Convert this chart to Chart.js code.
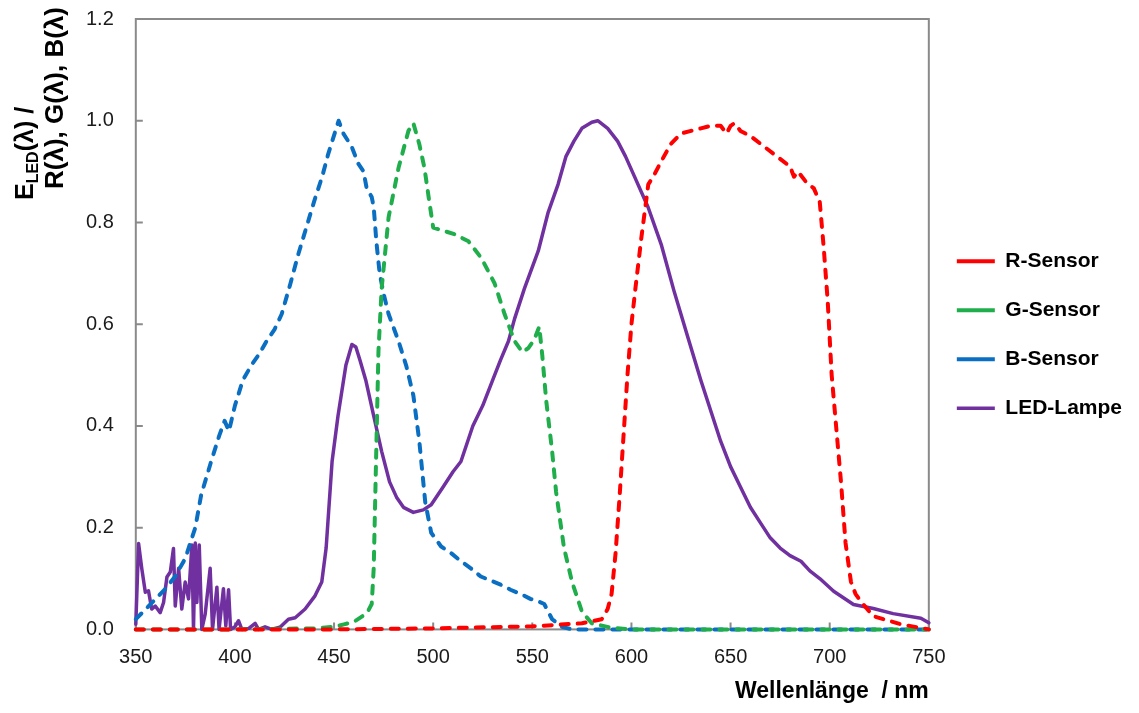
<!DOCTYPE html>
<html><head><meta charset="utf-8">
<script src="https://cdn.jsdelivr.net/npm/chart.js@4.4.0/dist/chart.umd.min.js"></script>
<style>html,body{margin:0;padding:0;background:#fff}#wrap{width:1139px;height:713px;position:relative}</style>
</head><body><div id="wrap"><canvas id="c"></canvas></div>
<script>
// ---------- data ----------
const seriesNames = ['R-Sensor', 'G-Sensor', 'B-Sensor', 'LED-Lampe'];
const xTitle = 'Wellenlänge  / nm';
const yTitleLine1 = ['E', 'LED', '(λ) /'];
const yTitleLine2 = 'R(λ), G(λ), B(λ)';

const rWl  = [350,450,500,550,575,585,588,590,592,594,596,598,600,602,605,608.5,611,615,620,625,630,635,640,645,648,650,652,655,660,665,670,675,680,682,684,688,692,695,697,699,701,703,705.7,708,710.7,713,715.7,722,736,750];
const rVal = [0,0,0.002,0.006,0.012,0.02,0.04,0.07,0.15,0.26,0.38,0.5,0.6,0.67,0.77,0.875,0.89,0.92,0.955,0.975,0.98,0.985,0.99,0.99,0.975,0.99,0.995,0.98,0.97,0.955,0.94,0.925,0.91,0.89,0.9,0.88,0.867,0.84,0.75,0.645,0.5,0.41,0.29,0.17,0.094,0.07,0.055,0.026,0.01,0];

const gWl  = [350,400,440,450,455,460,464,467,469,470,471,472.4,474,477.5,482.5,487.5,490,493,495.6,498,500,505.7,510.7,517.8,524.3,531,536,541,545,548,551,553.5,555,557,560,562,566,570,575,580,590,600,650,700,750];
const gVal = [0,0,0.002,0.005,0.01,0.015,0.025,0.035,0.05,0.12,0.3,0.547,0.67,0.81,0.907,0.98,0.995,0.954,0.907,0.842,0.79,0.783,0.777,0.763,0.73,0.68,0.62,0.567,0.545,0.553,0.57,0.595,0.54,0.45,0.35,0.27,0.16,0.094,0.035,0.012,0.003,0,0,0,0];

const bWl  = [350,355,360,365,370,375,380,383,388,392,394.8,397,400,404,408.4,412,416,420,423.6,428,432,436,440,444,447,452.3,454.8,458.8,462.3,464.9,466.4,469,470,471.4,473,475,477.5,482.5,486.5,490,493,496,499,504,509,514,519,524,529,534,539,544.5,549,553,556,560,565,570,600,650,700,750];
const bVal = [0.02,0.04,0.06,0.08,0.105,0.14,0.2,0.265,0.33,0.38,0.41,0.39,0.44,0.49,0.52,0.54,0.567,0.59,0.62,0.68,0.738,0.79,0.842,0.89,0.934,1.0,0.974,0.95,0.915,0.9,0.868,0.85,0.83,0.76,0.7,0.66,0.62,0.567,0.517,0.46,0.37,0.25,0.19,0.163,0.15,0.134,0.12,0.104,0.096,0.088,0.078,0.069,0.06,0.055,0.05,0.02,0.005,0,0,0,0,0];

const ledWl  = [350,351.4,353,354.8,356.4,358,359.8,362.3,364,365.7,367.4,369,369.9,371.6,373.2,374.9,376.6,378.3,379.1,380,380.8,382,383.3,385,387.5,388.7,390.9,392,394.2,395.4,396.8,397.8,400,401.8,403.5,407,410.2,411.9,415.2,418.6,423,427,430.4,435.4,440.4,443.8,446,449,452,454,456,459,461,463,466,470,474,478,481.5,485,490,495,499,505,510,514,520,525,530,534,538,541,546,553,558,563,567,571,575,580,583,588,593,597,601,608.4,615,621.5,628,635,640,645,650,655,660,665,670,675,680,685.5,690,695,702,712,722,732,746,750];
const ledVal = [0.01,0.169,0.12,0.073,0.076,0.04,0.046,0.033,0.053,0.103,0.113,0.159,0.046,0.12,0.04,0.093,0.06,0.166,0,0.17,0.053,0.166,0,0.03,0.12,0,0.083,0,0.08,0.007,0.078,0,0.005,0.017,0,0.002,0.012,0,0.005,0,0.005,0.02,0.023,0.04,0.066,0.093,0.16,0.33,0.42,0.47,0.52,0.56,0.555,0.53,0.49,0.42,0.35,0.29,0.26,0.24,0.23,0.235,0.245,0.28,0.31,0.33,0.4,0.44,0.49,0.53,0.567,0.61,0.67,0.744,0.82,0.875,0.93,0.96,0.985,0.997,1.0,0.985,0.96,0.93,0.895,0.83,0.757,0.665,0.58,0.49,0.43,0.37,0.32,0.28,0.24,0.21,0.18,0.16,0.145,0.134,0.115,0.1,0.075,0.049,0.041,0.031,0.022,0.013];

const xTicks = {min: 350, max: 750, step: 50};
const yTicks = {min: 0, max: 1.2, step: 0.2};

// ---------- build ----------
const pts = (xs, ys) => xs.map((x, i) => ({x, y: ys[i]}));
const FONT = '"Liberation Sans", Arial, sans-serif';

const framePlugin = {
  id: 'frame',
  beforeDatasetsDraw(chart) {
    const {ctx, chartArea: a, scales: {x, y}} = chart;
    ctx.save();
    ctx.strokeStyle = '#8a8a8a';
    ctx.lineWidth = 2;
    ctx.strokeRect(a.left, a.top, a.right - a.left, a.bottom - a.top);
    ctx.beginPath();
    x.ticks.forEach(t => { const p = x.getPixelForValue(t.value); ctx.moveTo(p, a.bottom); ctx.lineTo(p, a.bottom - 7); });
    y.ticks.forEach(t => { const p = y.getPixelForValue(t.value); ctx.moveTo(a.left, p); ctx.lineTo(a.left + 7, p); });
    ctx.stroke();
    ctx.restore();
  }
};

const yTitlePlugin = {
  id: 'ytitle',
  afterDraw(chart) {
    const {ctx} = chart;
    ctx.save();
    ctx.fillStyle = '#000';
    ctx.textAlign = 'left';
    ctx.textBaseline = 'alphabetic';
    ctx.save();
    ctx.translate(33, 200);
    ctx.rotate(-Math.PI / 2);
    let cx = 0;
    ctx.font = 'bold 25px ' + FONT;
    ctx.fillText(yTitleLine1[0], cx, 0); cx += ctx.measureText(yTitleLine1[0]).width;
    ctx.font = 'bold 16px ' + FONT;
    ctx.fillText(yTitleLine1[1], cx, 5); cx += ctx.measureText(yTitleLine1[1]).width;
    ctx.font = 'bold 25px ' + FONT;
    ctx.fillText(yTitleLine1[2], cx, 0);
    ctx.restore();
    ctx.save();
    ctx.translate(63, 189);
    ctx.rotate(-Math.PI / 2);
    ctx.font = 'bold 26px ' + FONT;
    ctx.fillText(yTitleLine2, 0, 0);
    ctx.restore();
    ctx.restore();
  }
};

const dashed = (label, color, data) => ({
  label, data, borderColor: color, backgroundColor: color,
  borderWidth: 4, borderDash: [8, 9], borderCapStyle: 'round', borderJoinStyle: 'round',
  pointRadius: 0, tension: 0, clip: false
});

new Chart(document.getElementById('c'), {
  type: 'line',
  data: {
    datasets: [
      dashed(seriesNames[0], '#ff0000', pts(rWl, rVal)),
      dashed(seriesNames[1], '#1fae4b', pts(gWl, gVal)),
      dashed(seriesNames[2], '#0a6fc2', pts(bWl, bVal)),
      { label: seriesNames[3], data: pts(ledWl, ledVal), borderColor: '#7030a0', backgroundColor: '#7030a0',
        borderWidth: 3.5, borderCapStyle: 'round', borderJoinStyle: 'round', pointRadius: 0, tension: 0, clip: false }
    ]
  },
  options: {
    responsive: true, maintainAspectRatio: false, animation: false,
    layout: { padding: { left: 72, right: 7, top: 19, bottom: 8 } },
    scales: {
      x: {
        type: 'linear', min: xTicks.min, max: xTicks.max,
        grid: { display: false }, border: { display: false },
        ticks: { stepSize: xTicks.step, color: '#1a1a1a', padding: 8, font: { family: FONT, size: 20 } },
        title: { display: true, text: xTitle, align: 'end', color: '#000', padding: { top: 0, bottom: 0 },
                 font: { family: FONT, size: 23, weight: 'bold' } }
      },
      y: {
        min: yTicks.min, max: yTicks.max,
        grid: { display: false }, border: { display: false },
        afterFit: s => { s.paddingTop = 0; s.paddingBottom = 0; },
        ticks: { stepSize: yTicks.step, color: '#1a1a1a', padding: 14, font: { family: FONT, size: 20 },
                 callback: v => Number(v).toFixed(1) }
      }
    },
    plugins: {
      tooltip: { enabled: false },
      legend: {
        position: 'right', align: 'center', fullSize: false,
        title: { display: true, text: '', padding: { top: 10, bottom: 10 }, font: { size: 1 } },
        labels: { usePointStyle: true, pointStyle: 'line', pointStyleWidth: 38, boxHeight: 21,
                  padding: 28, color: '#000', font: { family: FONT, size: 21, weight: 'bold' } }
      }
    }
  },
  plugins: [framePlugin, yTitlePlugin]
});
</script></body></html>
